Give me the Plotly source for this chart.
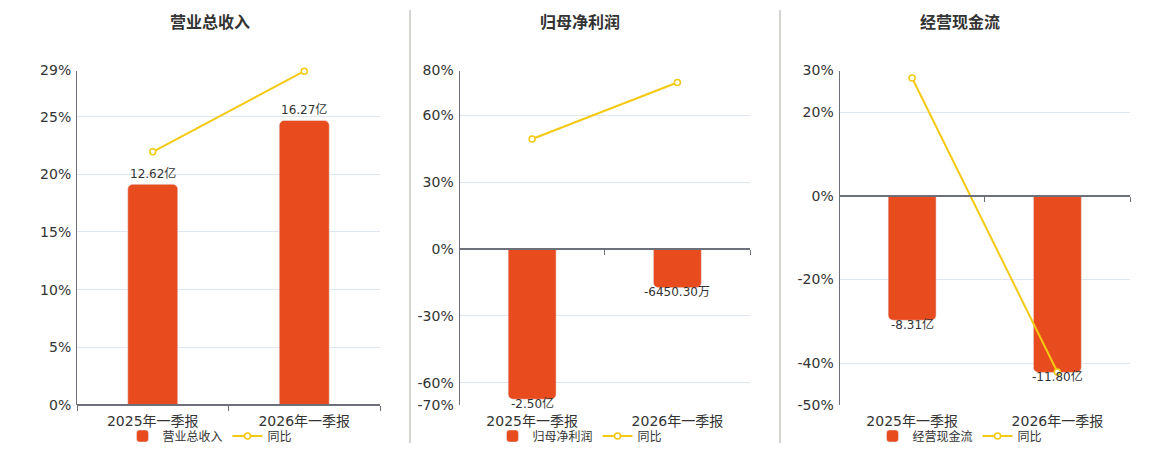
import plotly.graph_objects as go

# 数据（单位：亿元；同比 %）
categories = ["2025年一季报", "2026年一季报"]

revenue = [12.62, 16.27]
revenue_labels = ["12.62亿", "16.27亿"]
revenue_yoy = [21.95, 28.94]

net_profit = [-2.50, -0.645030]
net_profit_labels = ["-2.50亿", "-6450.30万"]
net_profit_yoy = [49.3, 74.6]

cash_flow = [-8.31, -11.80]
cash_flow_labels = ["-8.31亿", "-11.80亿"]
cash_flow_yoy = [28.2, -42.1]

titles = ["营业总收入", "归母净利润", "经营现金流"]
pct_ticks = [[0, 5, 10, 15, 20, 25, 29], [-70, -60, -30, 0, 30, 60, 80], [-50, -40, -20, 0, 20, 30]]

BAR_COLOR = "#E84B1D"
LINE_COLOR = "#F3C912"
FONT = "DejaVu Sans, Noto Sans CJK SC, sans-serif"

# page body has an 8px margin, so the paper starts at (8, 8) on screen
OFF = 8
W, H = 1160 - OFF, 450 - OFF


def fx(px):
    return (px - OFF) / W


def fy(py):
    return 1 - (py - OFF) / H


x_domains = [[fx(77), fx(380)], [fx(459.5), fx(750)], [fx(839.5), fx(1130)]]
y_domain = [fy(405), fy(70.5)]
centers = [210, 580, 960]
# hidden bar axis ranges, chosen so bar zero lines up with 0%
bar_ranges = [[0, 19.13], [-2.596, 2.967], [-13.98, 8.39]]

panels = [
    (revenue, revenue_labels, revenue_yoy),
    (net_profit, net_profit_labels, net_profit_yoy),
    (cash_flow, cash_flow_labels, cash_flow_yoy),
]

fig = go.Figure()
layout = dict(
    width=W, height=H,
    margin=dict(l=0, r=0, t=0, b=0, autoexpand=False),
    paper_bgcolor="white", plot_bgcolor="white",
    font=dict(family=FONT, color="#333"),
    showlegend=True,
    annotations=[], shapes=[],
)

for i, (vals, labels, yoy) in enumerate(panels):
    base = "" if i == 0 else str(i + 1)
    over = str(i + 4)
    legend_id = "legend" if i == 0 else f"legend{i + 1}"
    ticks = pct_ticks[i]
    pr = [min(ticks), max(ticks)]

    fig.add_trace(go.Bar(
        x=categories, y=vals, name=titles[i],
        xaxis="x" + base, yaxis="y" + base,
        marker=dict(color=BAR_COLOR, cornerradius=5),
        width=0.33,
        legend=legend_id, hoverinfo="skip",
    ))
    fig.add_trace(go.Scatter(
        x=categories, y=yoy, name="同比", mode="lines+markers",
        xaxis="x" + over, yaxis="y" + over,
        line=dict(color=LINE_COLOR, width=2),
        marker=dict(symbol="circle", size=6, color="white",
                    line=dict(color=LINE_COLOR, width=1.5)),
        cliponaxis=False, legend=legend_id, hoverinfo="skip",
    ))

    # bar value labels: above positive bars, just under negative ones
    for c, v, lab in zip(categories, vals, labels):
        layout["annotations"].append(dict(
            text=lab, x=c, y=v, xref="x" + base, yref="y" + base,
            xanchor="center", yanchor="middle", showarrow=False,
            yshift=11 if v >= 0 else -4,
            font=dict(size=12, color="#333"),
        ))

    zero_pos = y_domain[0] + (0 - pr[0]) / (pr[1] - pr[0]) * (y_domain[1] - y_domain[0])

    layout["xaxis" + base] = dict(
        domain=x_domains[i], anchor="y" + base, type="category",
        categoryorder="array", categoryarray=categories, range=[-0.5, 1.5],
        showline=False, showgrid=False, ticks="", zeroline=False,
        ticklabelstandoff=6,
        tickfont=dict(size=14, color="#333"), fixedrange=True,
    )
    layout["yaxis" + base] = dict(
        domain=y_domain, anchor="x" + base, range=bar_ranges[i],
        visible=False, showgrid=False, zeroline=False, fixedrange=True,
    )
    layout["xaxis" + over] = dict(
        domain=x_domains[i], overlaying="x" + base, anchor="free", position=zero_pos,
        type="category", categoryorder="array", categoryarray=categories,
        range=[-0.5, 1.5], showline=True, linecolor="#6E7079", linewidth=1.5,
        ticks="outside", tickson="boundaries", ticklen=5, tickcolor="#6E7079",
        showticklabels=False, showgrid=False, zeroline=False, fixedrange=True,
    )
    layout["yaxis" + over] = dict(
        domain=y_domain, overlaying="y" + base, anchor="x" + over, side="left",
        range=pr, tickvals=ticks, ticktext=[f"{t}%" for t in ticks],
        showline=True, linecolor="#6E7079", linewidth=1,
        showgrid=True, gridcolor="#E0E6F1", gridwidth=1,
        zeroline=True, zerolinecolor="#6E7079", zerolinewidth=1.5,
        ticks="", ticklabelstandoff=2,
        tickfont=dict(size=14, color="#333"), fixedrange=True,
    )
    layout[legend_id] = dict(
        orientation="h", x=fx(centers[i]), xanchor="center",
        y=fy(436), yanchor="middle",
        font=dict(size=12, color="#333"), itemwidth=30,
        bgcolor="rgba(0,0,0,0)", tracegroupgap=0,
    )
    layout["annotations"].append(dict(
        text=f"<b>{titles[i]}</b>", x=fx(centers[i]), y=fy(23),
        xref="paper", yref="paper", xanchor="center", yanchor="middle",
        showarrow=False, font=dict(size=16, color="#333"),
    ))

for xs in [410, 780]:
    layout["shapes"].append(dict(
        type="line", xref="paper", yref="paper",
        x0=fx(xs), x1=fx(xs), y0=fy(10), y1=fy(443),
        line=dict(color="#AAAAA2", width=1),
    ))

fig.update_layout(**layout)
fig.write_html("out.html", config={"displayModeBar": False})
